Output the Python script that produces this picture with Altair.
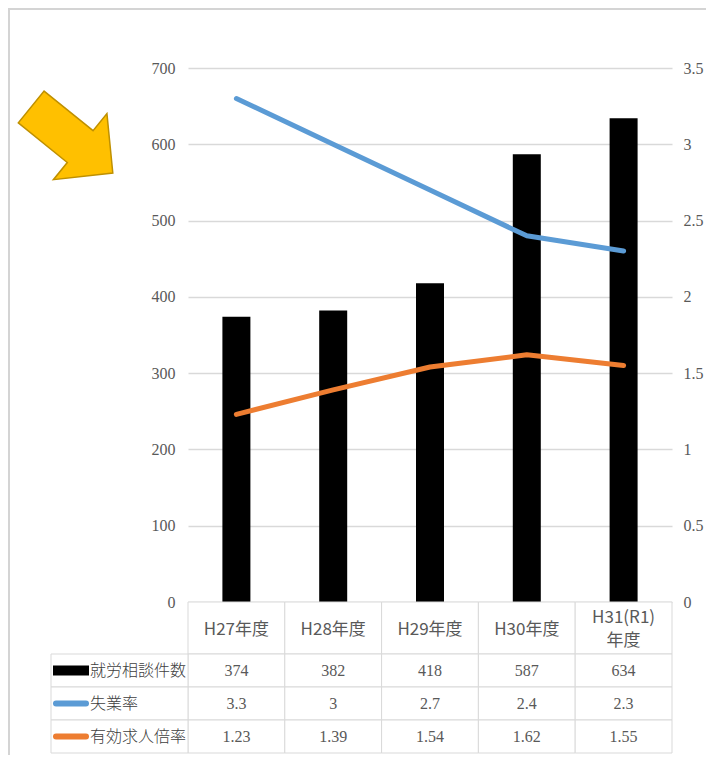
import altair as alt
import pandas as pd

# ---------------- data ----------------
categories = ["H27年度", "H28年度", "H29年度", "H30年度", "H31(R1)\n年度"]
consultations = [374, 382, 418, 587, 634]          # 就労相談件数 (left axis, bars)
unemployment_rate = [3.3, 3.0, 2.7, 2.4, 2.3]      # 失業率 (right axis, blue line)
job_offer_ratio = [1.23, 1.39, 1.54, 1.62, 1.55]   # 有効求人倍率 (right axis, orange line)
series_names = ["就労相談件数", "失業率", "有効求人倍率"]
left_ticks = [0, 100, 200, 300, 400, 500, 600, 700]
right_ticks = [0, 0.5, 1, 1.5, 2, 2.5, 3, 3.5]

wide = pd.DataFrame({
    "category": categories,
    "consult": consultations,
    "unemp": unemployment_rate,
    "ratio": job_offer_ratio,
})
long = pd.DataFrame({
    "category": categories * 3,
    "series": [s for s in series_names for _ in categories],
    "value": consultations + unemployment_rate + job_offer_ratio,
})

# ---------------- layout / style ----------------
PAD_L = 180
W, H = 484, 534
HEADER_H = 52
ROW_H = 33
LEFT_COL = -137
FONT_NUM = "Liberation Sans Narrow"
FONT_MIX = "Liberation Sans Narrow, Noto Sans CJK JP"
FONT_JP = "Noto Sans CJK JP"
GRID = "#d9d9d9"
TXT = "#595959"
BLUE = "#5B9BD5"
ORANGE = "#ED7D31"
ARROW_PATH = "M -1 -0.39 L 0.2 -0.39 L 0.2 -0.81 L 1 0 L 0.2 0.81 L 0.2 0.39 L -1 0.39 Z"

x_enc = alt.X("category:N", sort=categories,
              scale=alt.Scale(paddingInner=0, paddingOuter=0), axis=None)

one = pd.DataFrame({"k": [0]})
layers = []

# page frame lines
layers.append(alt.Chart(one).mark_rule(color="#d4d4d4", strokeWidth=2).encode(
    x=alt.value(-PAD_L), x2=alt.value(530), y=alt.value(-59)))
layers.append(alt.Chart(one).mark_rule(color="#d4d4d4", strokeWidth=2).encode(
    x=alt.value(-PAD_L + 1), y=alt.value(-60), y2=alt.value(700)))

# yellow arrow
layers.append(alt.Chart(one).mark_point(
    shape=ARROW_PATH, size=11025, angle=39, filled=True, fill="#FFC000",
    stroke="#BF9000", strokeWidth=1.5, opacity=1).encode(
    x=alt.value(64 - PAD_L), y=alt.value(72)))

# table header cells
layers.append(alt.Chart(wide).mark_rect(fill="white", stroke=GRID, strokeWidth=1).encode(
    x=x_enc, y=alt.value(H), y2=alt.value(H + HEADER_H)))
hdr = alt.Chart(wide)
layers.append(hdr.transform_filter("indexof(datum.category, '\\n') < 0").mark_text(
    font=FONT_MIX, fontSize=17, color=TXT, baseline="middle").encode(
    x=x_enc, y=alt.value(H + HEADER_H / 2 + 2), text="category:N"))
layers.append(hdr.transform_filter("indexof(datum.category, '\\n') >= 0").mark_text(
    font=FONT_MIX, fontSize=17, color=TXT, lineBreak="\n", lineHeight=23,
    baseline="middle").encode(
    x=x_enc, y=alt.value(H + HEADER_H / 2 - 10), text="category:N"))

# table rows
for i, s in enumerate(series_names):
    top = H + HEADER_H + i * ROW_H
    mid = top + ROW_H / 2
    sub = alt.Chart(long).transform_filter(alt.datum.series == s)
    layers.append(sub.mark_rect(fill="white", stroke=GRID, strokeWidth=1).encode(
        x=x_enc, y=alt.value(top), y2=alt.value(top + ROW_H)))
    lab = alt.Chart(pd.DataFrame({"series": [s]}))
    layers.append(lab.mark_rect(fill="white", stroke=GRID, strokeWidth=1).encode(
        x=alt.value(LEFT_COL), x2=alt.value(0), y=alt.value(top), y2=alt.value(top + ROW_H)))
    if i == 0:
        layers.append(lab.mark_rect(color="#000000").encode(
            x=alt.value(LEFT_COL + 2), x2=alt.value(LEFT_COL + 38),
            y=alt.value(mid - 5), y2=alt.value(mid + 5)))
    else:
        layers.append(lab.mark_rule(color=BLUE if i == 1 else ORANGE, strokeWidth=6,
                                    strokeCap="round").encode(
            x=alt.value(LEFT_COL + 5), x2=alt.value(LEFT_COL + 35), y=alt.value(mid)))
    layers.append(lab.mark_text(font=FONT_JP, fontSize=16, fontWeight=300, color="#404040",
                                align="left", baseline="middle").encode(
        x=alt.value(LEFT_COL + 39), y=alt.value(mid), text="series:N"))
    layers.append(sub.mark_text(font=FONT_NUM, fontSize=16, color=TXT,
                                baseline="middle").encode(
        x=x_enc, y=alt.value(mid), text=alt.Text("value:Q", format="~g")))

# bars (left axis)
bars = alt.Chart(wide).mark_bar(size=28, color="#000000").encode(
    x=x_enc,
    y=alt.Y("consult:Q", scale=alt.Scale(domain=[0, 700], nice=False),
            axis=alt.Axis(values=left_ticks, format="d", orient="left", grid=True,
                          gridColor=GRID, gridWidth=1.5, domain=False, ticks=False,
                          labelPadding=13, labelFont=FONT_NUM, labelFontSize=16,
                          labelColor=TXT, title=None)))

# lines (right axis)
line1 = alt.Chart(wide).mark_line(color=BLUE, strokeWidth=5, strokeCap="round",
                                  strokeJoin="round").encode(
    x=x_enc,
    y=alt.Y("unemp:Q", scale=alt.Scale(domain=[0, 3.5], nice=False),
            axis=alt.Axis(values=right_ticks, format=".1~f", orient="right", grid=False,
                          domain=False, ticks=False, labelPadding=11, labelFont=FONT_NUM,
                          labelFontSize=16, labelColor=TXT, title=None)))
line2 = alt.Chart(wide).mark_line(color=ORANGE, strokeWidth=5, strokeCap="round",
                                  strokeJoin="round").encode(
    x=x_enc,
    y=alt.Y("ratio:Q", scale=alt.Scale(domain=[0, 3.5], nice=False), axis=None))

chart = alt.layer(bars, line1, line2, *layers).resolve_scale(y="independent").properties(
    width=W, height=H,
    padding={"left": PAD_L, "top": 60, "right": 698 - PAD_L - W, "bottom": 153},
    autosize=alt.AutoSizeParams(type="none"),
    background="white",
).configure_view(stroke=None)

chart.save("out.html", embed_options={"renderer": "svg", "actions": False})
